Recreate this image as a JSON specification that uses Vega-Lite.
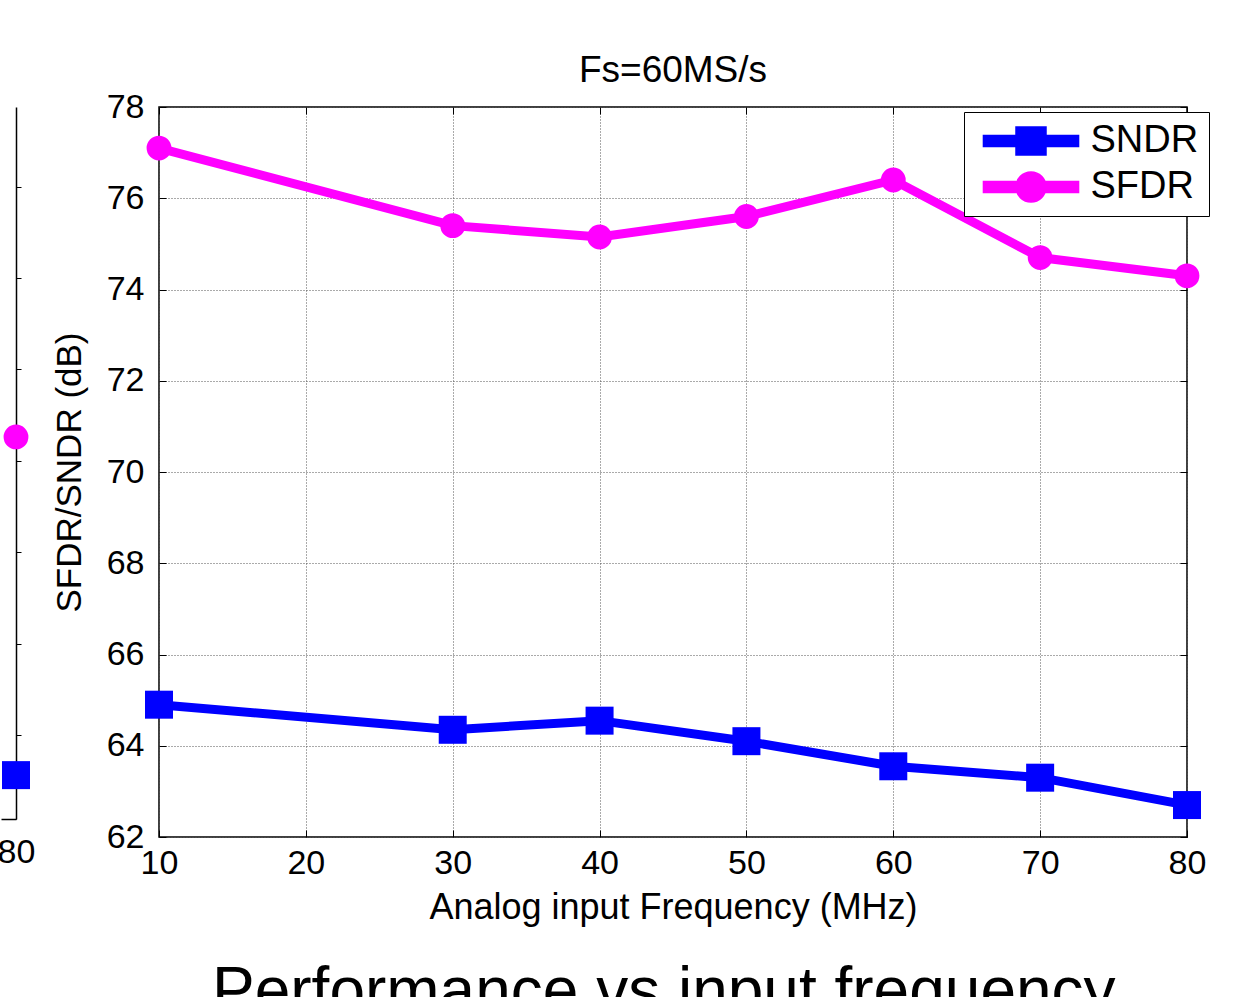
{
  "$schema": "https://vega.github.io/schema/vega-lite/v6.json",
  "background": "white",
  "padding": {"left": -3, "top": 51, "right": 0, "bottom": 0},
  "config": {
    "font": "Liberation Sans",
    "view": {"stroke": null},
    "axis": {"labelFont": "Liberation Sans", "titleFont": "Liberation Sans", "labelColor": "black", "titleColor": "black", "titleFontWeight": "normal"}
  },
  "title": {"text": "Performance vs input frequency", "orient": "bottom", "anchor": "start", "frame": "group", "dx": 211, "offset": 35, "fontSize": 64, "fontWeight": "normal", "font": "Liberation Sans", "color": "black"},
  "datasets": {
    "right": [
      {"series": "SNDR", "freq": 10, "value": 64.9},
      {"series": "SNDR", "freq": 30, "value": 64.35},
      {"series": "SNDR", "freq": 40, "value": 64.55},
      {"series": "SNDR", "freq": 50, "value": 64.1},
      {"series": "SNDR", "freq": 60, "value": 63.55},
      {"series": "SNDR", "freq": 70, "value": 63.3},
      {"series": "SNDR", "freq": 80, "value": 62.7},
      {"series": "SFDR", "freq": 10, "value": 77.1},
      {"series": "SFDR", "freq": 30, "value": 75.4},
      {"series": "SFDR", "freq": 40, "value": 75.15},
      {"series": "SFDR", "freq": 50, "value": 75.6},
      {"series": "SFDR", "freq": 60, "value": 76.4},
      {"series": "SFDR", "freq": 70, "value": 74.7},
      {"series": "SFDR", "freq": 80, "value": 74.3}
    ],
    "left": [
      {"series": "SNDR", "freq": 80, "value": 63.12},
      {"series": "SFDR", "freq": 80, "value": 70.52}
    ]
  },
  "spacing": 143,
  "bounds": "flush",
  "resolve": {"scale": {"color": "independent", "shape": "independent", "size": "independent", "x": "independent", "y": "independent"}, "legend": {"color": "independent", "shape": "independent", "size": "independent"}},
  "hconcat": [
    {
      "width": 15,
      "height": 712,
      "data": {"name": "left"},
      "layer": [
        {
          "mark": {"type": "point", "filled": true, "opacity": 1, "clip": false},
          "encoding": {
            "x": {"field": "freq", "type": "quantitative", "scale": {"domain": [79, 80], "nice": false, "zero": false},
              "axis": {"values": [80], "title": null, "labelFontSize": 34, "grid": false, "domain": true, "domainColor": "black", "domainWidth": 1.5, "ticks": true, "tickColor": "black", "tickSize": -6, "labelPadding": 22, "labelFlush": false}},
            "y": {"field": "value", "type": "quantitative", "scale": {"domain": [62.16, 77.74], "nice": false, "zero": false},
              "axis": {"orient": "right", "values": [64, 66, 68, 70, 72, 74, 76], "labels": false, "title": null, "grid": false, "domainColor": "black", "domainWidth": 1.5, "tickColor": "black", "tickSize": 5}},
            "color": {"field": "series", "type": "nominal", "scale": {"domain": ["SNDR", "SFDR"], "range": ["#0000ff", "#ff00ff"]}, "legend": null},
            "shape": {"field": "series", "type": "nominal", "scale": {"domain": ["SNDR", "SFDR"], "range": ["square", "circle"]}, "legend": null},
            "size": {"field": "series", "type": "nominal", "scale": {"domain": ["SNDR", "SFDR"], "range": [784, 616]}, "legend": null}
          }
        }
      ]
    },
    {
      "width": 1028,
      "height": 730,
      "data": {"name": "right"},
      "view": {"stroke": "black", "strokeWidth": 1.5},
      "title": {"text": "Fs=60MS/s", "fontSize": 37, "fontWeight": "normal", "font": "Liberation Sans", "color": "black", "offset": 0, "anchor": "middle"},
      "layer": [
        {
          "mark": {"type": "line", "strokeWidth": 9, "clip": false},
          "encoding": {
            "x": {"field": "freq", "type": "quantitative", "scale": {"domain": [10, 80], "nice": false, "zero": false},
              "axis": {"values": [10, 20, 30, 40, 50, 60, 70, 80], "title": "Analog input Frequency (MHz)", "titleFontSize": 36, "labelFontSize": 34, "grid": true, "gridColor": "#555555", "gridDash": [1, 2], "gridWidth": 1, "domain": false, "tickColor": "black", "tickSize": -7, "labelPadding": 16, "titlePadding": 10, "labelFlush": false}},
            "y": {"field": "value", "type": "quantitative", "scale": {"domain": [62, 78], "nice": false, "zero": false},
              "axis": {"values": [62, 64, 66, 68, 70, 72, 74, 76, 78], "title": "SFDR/SNDR (dB)", "titleFontSize": 35, "labelFontSize": 34, "grid": true, "gridColor": "#555555", "gridDash": [1, 2], "gridWidth": 1, "domain": false, "tickColor": "black", "tickSize": -7, "labelPadding": 22, "titlePadding": 19, "labelFlush": false}},
            "color": {"field": "series", "type": "nominal", "scale": {"domain": ["SNDR", "SFDR"], "range": ["#0000ff", "#ff00ff"]},
              "legend": {
                "orient": "none", "legendX": 805, "legendY": 5, "title": null,
                "labelFont": "Liberation Sans", "labelFontSize": 38, "labelColor": "black",
                "strokeColor": "black", "fillColor": "white", "padding": 10,
                "symbolSize": 900, "symbolOffset": 38, "labelOffset": 40.5, "rowPadding": 8,
                "encode": {"symbols": {"update": {
                  "shape": {"signal": "datum.value === 'SNDR' ? 'M-3.17,-0.37H3.17V0.37H-3.17Z M-1,-0.93H1V0.93H-1Z' : 'M-3.17,-0.37H3.17V0.37H-3.17Z M1,0A1,1 0 1,1 -1,0A1,1 0 1,1 1,0Z'"},
                  "fill": {"signal": "datum.value === 'SNDR' ? '#0000ff' : '#ff00ff'"},
                  "stroke": {"value": "transparent"},
                  "size": {"value": 900},
                  "opacity": {"value": 1}
                }}}
              }}
          }
        },
        {
          "transform": [{"filter": "datum.series === 'SNDR'"}],
          "mark": {"type": "point", "filled": true, "opacity": 1, "clip": false, "shape": "square", "size": 784},
          "encoding": {
            "x": {"field": "freq", "type": "quantitative", "axis": null},
            "y": {"field": "value", "type": "quantitative", "axis": null},
            "color": {"field": "series", "type": "nominal"}
          }
        },
        {
          "transform": [{"filter": "datum.series === 'SFDR'"}],
          "mark": {"type": "point", "filled": true, "opacity": 1, "clip": false, "shape": "circle", "size": 616},
          "encoding": {
            "x": {"field": "freq", "type": "quantitative", "axis": null},
            "y": {"field": "value", "type": "quantitative", "axis": null},
            "color": {"field": "series", "type": "nominal"}
          }
        },
        {
          "mark": {"type": "point", "opacity": 0},
          "encoding": {
            "x": {"field": "freq", "type": "quantitative", "axis": {"orient": "top", "values": [10, 20, 30, 40, 50, 60, 70, 80], "labels": false, "title": null, "grid": false, "domain": false, "tickColor": "black", "tickSize": -7}},
            "y": {"field": "value", "type": "quantitative", "axis": {"orient": "right", "values": [62, 64, 66, 68, 70, 72, 74, 76, 78], "labels": false, "title": null, "grid": false, "domain": false, "tickColor": "black", "tickSize": -7}}
          }
        }
      ],
      "resolve": {"axis": {"x": "independent", "y": "independent"}}
    }
  ]
}
